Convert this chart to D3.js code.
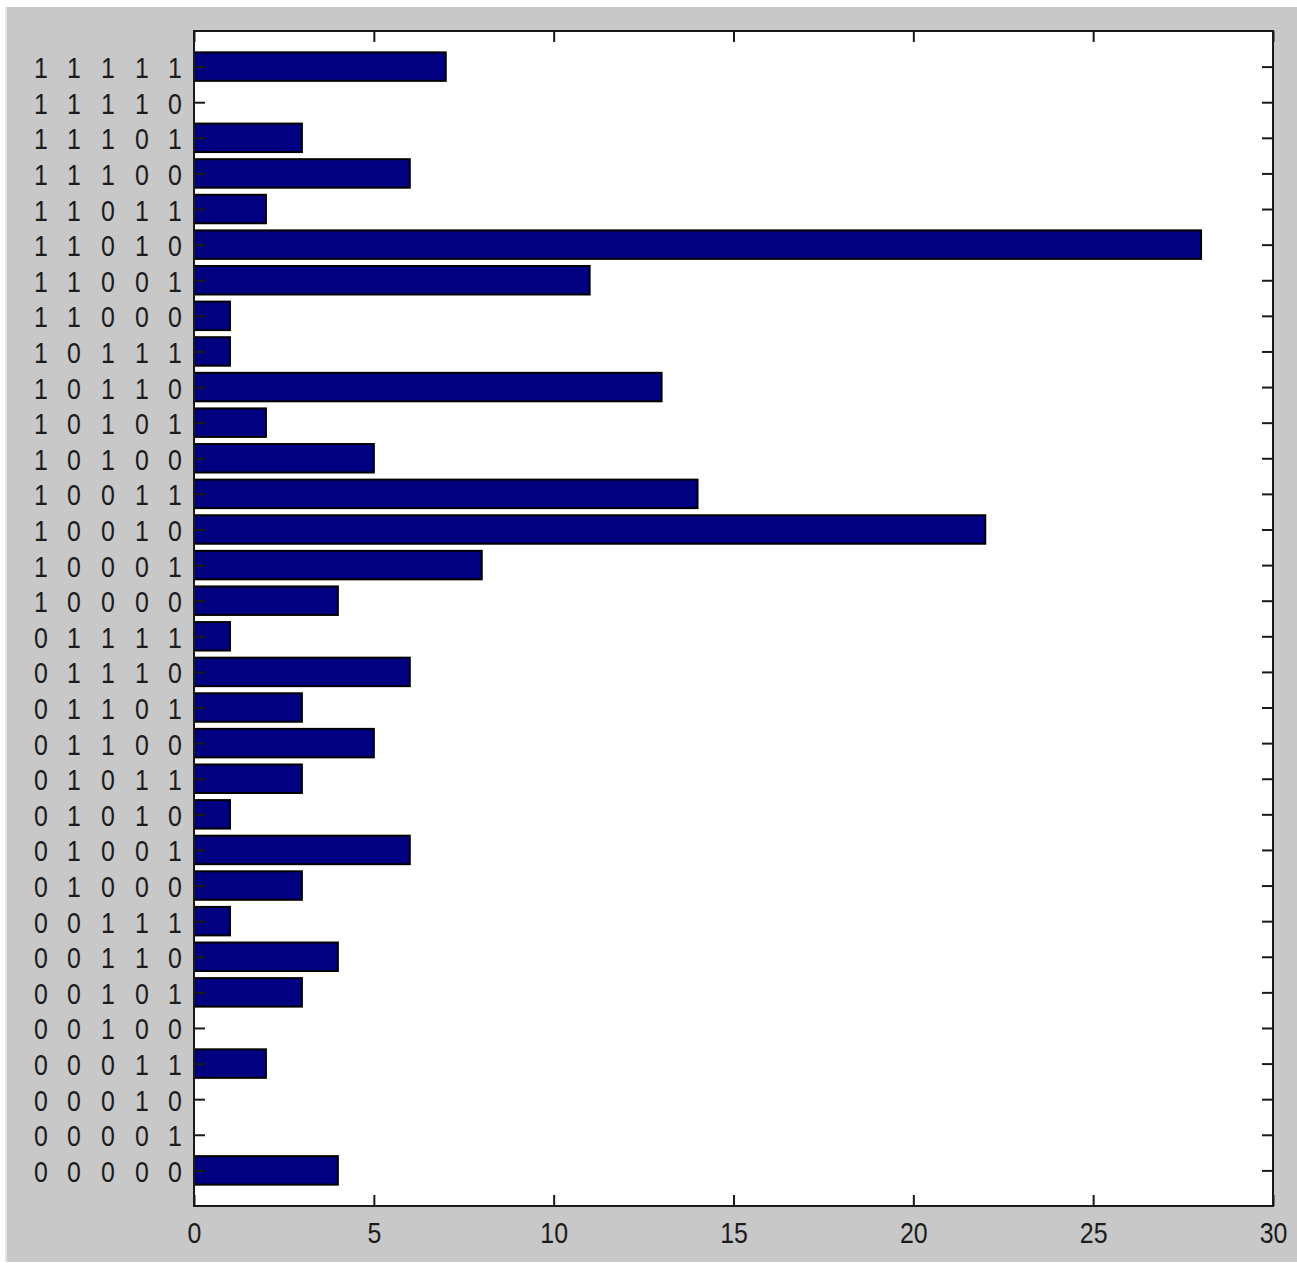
<!DOCTYPE html>
<html>
<head>
<meta charset="utf-8">
<script src="https://cdn.jsdelivr.net/npm/d3@7"></script>
<style>
  html, body { margin: 0; padding: 0; background: #ffffff; }
  svg { display: block; }
</style>
</head>
<body>
<div id="chart"></div>
<script>
// 5-bit patterns, listed bottom to top
const categories = [
  "0 0 0 0 0", "0 0 0 0 1", "0 0 0 1 0", "0 0 0 1 1",
  "0 0 1 0 0", "0 0 1 0 1", "0 0 1 1 0", "0 0 1 1 1",
  "0 1 0 0 0", "0 1 0 0 1", "0 1 0 1 0", "0 1 0 1 1",
  "0 1 1 0 0", "0 1 1 0 1", "0 1 1 1 0", "0 1 1 1 1",
  "1 0 0 0 0", "1 0 0 0 1", "1 0 0 1 0", "1 0 0 1 1",
  "1 0 1 0 0", "1 0 1 0 1", "1 0 1 1 0", "1 0 1 1 1",
  "1 1 0 0 0", "1 1 0 0 1", "1 1 0 1 0", "1 1 0 1 1",
  "1 1 1 0 0", "1 1 1 0 1", "1 1 1 1 0", "1 1 1 1 1"
];
const counts = [
  4, 0, 0, 2, 0, 3, 4, 1,
  3, 6, 1, 3, 5, 3, 6, 1,
  4, 8, 22, 14, 5, 2, 13, 1,
  1, 11, 28, 2, 6, 3, 0, 7
];
const xTicks = [0, 5, 10, 15, 20, 25, 30];

const W = 1297, H = 1263;
const plot = { left: 194, right: 1273, top: 31, bottom: 1206 };

const svg = d3.select("#chart").append("svg")
  .attr("width", W).attr("height", H);

// figure background with a thin light rim on the left
svg.append("rect").attr("x", 5).attr("y", 7).attr("width", W - 5).attr("height", 1255)
  .attr("fill", "#e6e6e6");
svg.append("rect").attr("x", 7).attr("y", 7).attr("width", W - 7).attr("height", 1255)
  .attr("fill", "#c8c8c8");

const x = d3.scaleLinear().domain([0, 30]).range([plot.left, plot.right]);
// categories sit at positions 1..32 inside limits 0..33
const y = d3.scaleLinear().domain([0, 33]).range([plot.bottom, plot.top]);
const barH = 0.8;

svg.append("rect")
  .attr("x", plot.left).attr("y", plot.top)
  .attr("width", plot.right - plot.left).attr("height", plot.bottom - plot.top)
  .attr("fill", "#ffffff");

const rows = categories.map((c, i) => ({ label: c, pos: i + 1, value: counts[i] }));

svg.append("g").selectAll("rect")
  .data(rows.filter(d => d.value > 0))
  .join("rect")
  .attr("x", x(0))
  .attr("y", d => y(d.pos + barH / 2))
  .attr("width", d => x(d.value) - x(0))
  .attr("height", d => y(d.pos - barH / 2) - y(d.pos + barH / 2))
  .attr("fill", "#000080")
  .attr("stroke", "#000000")
  .attr("stroke-width", 2);

const font = "'Liberation Sans', Arial, sans-serif";
const squeeze = 0.86;          // narrow the glyphs horizontally
const tickLen = 11;
const axisColor = "#1a1a1a";
const textColor = "#1c1c1c";

// bottom axis: inward ticks + labels
const bottom = svg.append("g").attr("transform", `translate(0,${plot.bottom})`)
  .call(d3.axisBottom(x).tickValues(xTicks).tickSize(-tickLen).tickPadding(0).tickFormat(d3.format("d")));
bottom.selectAll("text").attr("y", 37).attr("dy", 0)
  .attr("transform", `scale(${squeeze},1)`)
  .attr("font-family", font).attr("font-size", 29).attr("fill", textColor);

// top axis: inward ticks only
svg.append("g").attr("transform", `translate(0,${plot.top})`)
  .call(d3.axisTop(x).tickValues(xTicks).tickSize(-tickLen).tickFormat(""));

// left axis: inward ticks + spaced-digit labels
const left = svg.append("g").attr("transform", `translate(${plot.left},0)`)
  .call(d3.axisLeft(y).tickValues(rows.map(d => d.pos)).tickSize(-tickLen)
    .tickFormat(p => categories[p - 1]));
const digitOffsets = [-153, -120, -86, -52, -19];
left.selectAll(".tick text").each(function (p) {
  const t = d3.select(this);
  const digits = categories[p - 1].split(" ");
  t.text(null).attr("x", null).attr("dy", null)
    .attr("transform", `scale(${squeeze},1)`)
    .attr("font-family", font).attr("font-size", 29).attr("fill", textColor)
    .attr("text-anchor", "middle");
  t.selectAll("tspan").data(digits).join("tspan")
    .attr("x", (d, i) => digitOffsets[i] / squeeze)
    .attr("y", 11)
    .text(d => d);
});

// right axis: inward ticks only
svg.append("g").attr("transform", `translate(${plot.right},0)`)
  .call(d3.axisRight(y).tickValues(rows.map(d => d.pos)).tickSize(-tickLen).tickFormat(""));

svg.selectAll(".domain").remove();
svg.selectAll(".tick line").attr("stroke", axisColor).attr("stroke-width", 2);

// axes box
svg.append("rect")
  .attr("x", plot.left).attr("y", plot.top)
  .attr("width", plot.right - plot.left).attr("height", plot.bottom - plot.top)
  .attr("fill", "none").attr("stroke", axisColor).attr("stroke-width", 2);
</script>
</body>
</html>
